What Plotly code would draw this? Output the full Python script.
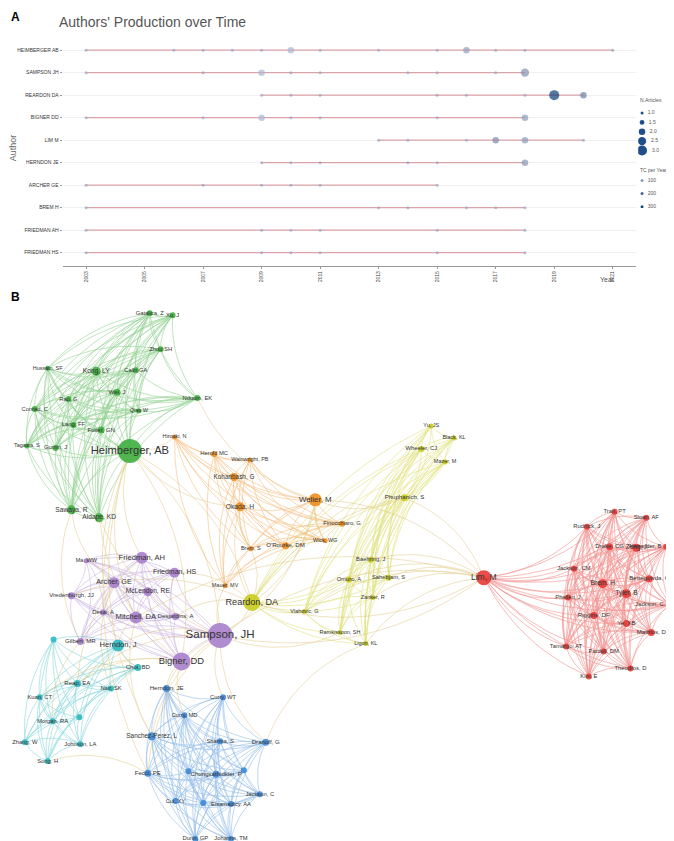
import plotly.graph_objects as go

# ---------- Panel A data ----------
authors = ["HEIMBERGER AB", "SAMPSON JH", "REARDON DA", "BIGNER DD", "LIM M",
           "HERNDON JE", "ARCHER GE", "BREM H", "FRIEDMAN AH", "FRIEDMAN HS"]
years = [
    [2003, 2006, 2007, 2008, 2009, 2010, 2011, 2013, 2015, 2016, 2017, 2018, 2021],
    [2003, 2007, 2009, 2010, 2011, 2014, 2015, 2017, 2018],
    [2009, 2010, 2011, 2015, 2016, 2018, 2019, 2020],
    [2003, 2007, 2009, 2010, 2011, 2015, 2018],
    [2013, 2014, 2016, 2017, 2018, 2020],
    [2009, 2010, 2011, 2014, 2015, 2018],
    [2003, 2007, 2009, 2010, 2011, 2015],
    [2003, 2013, 2014, 2016, 2017, 2018],
    [2003, 2009, 2010, 2011, 2015, 2018],
    [2003, 2009, 2010, 2011, 2015, 2018],
]
n_articles = [
    [1, 1, 1, 1, 1, 2, 1, 1, 1, 2, 1, 1, 1],
    [1, 1, 2, 1, 1, 1, 1, 1, 2.5],
    [1, 1, 1, 1, 1, 1, 3, 2],
    [1, 1, 2, 1, 1, 1, 2],
    [1, 1, 1, 2, 2, 1],
    [1, 1, 1, 1, 1, 2],
    [1, 1, 1, 1, 1, 1],
    [1, 1, 1, 1, 1, 1],
    [1, 1, 1, 1, 1, 1],
    [1, 1, 1, 1, 1, 1],
]
tc_year = [
    [80, 80, 80, 80, 80, 40, 80, 80, 80, 90, 80, 80, 90],
    [80, 80, 40, 80, 80, 80, 80, 80, 120],
    [80, 80, 80, 80, 80, 80, 330, 150],
    [80, 80, 40, 80, 80, 80, 100],
    [80, 80, 80, 130, 100, 80],
    [80, 80, 80, 80, 80, 110],
    [80, 80, 80, 80, 80, 80],
    [80, 80, 80, 80, 80, 80],
    [80, 80, 80, 80, 80, 80],
    [80, 80, 80, 80, 80, 80],
]
year_ticks = [2003, 2005, 2007, 2009, 2011, 2013, 2015, 2017, 2019, 2021]
legend_n = [1.0, 1.5, 2.0, 2.5, 3.0]
legend_tc = [100, 200, 300]

# ---------- Panel B data ----------
node_labels = [
    "Gatalica, Z", "Xu, J", "Zhou SH", "Hussain, SF", "Kong, LY", "Calin GA", "Wei, J", "Rao, G",
    "Conrad, C", "Qiao W", "Nduom, EK", "Lang, FF", "Fuller, GN", "Tagawa, S", "Gumin, J",
    "Heimberger, AB", "Sawaya, R", "Aldape, KD",
    "Hiroaki, N", "Herold MC", "Wainwright, PB", "Kohanbash, G", "Okada, H", "Weller, M",
    "Finocchiaro, G", "Wick, WG", "O'Rourke, DM", "Brem, S", "Mauer, MV",
    "Phuphanich, S", "Yu, JS", "Black, KL", "Wheeler, CJ", "Mazer, M", "Reardon, DA", "Baehring, J",
    "Omuro, A", "Sahebjam, S", "Zanker, R", "Vlahovic, G", "Ramkissoon, SH", "Ligon, KL",
    "Friedman, AH", "Friedman, HS", "Archer, GE", "McLendon, RE", "Vredenburgh, JJ", "Desai, A",
    "Mitchell, DA", "Desjardins, A", "Sampson, JH", "Bigner, DD", "Gilbert, MR", "Ma, WW",
    "Herndon, J", "", "Choi, BD", "Reap, EA", "Nair, SK", "Kuan, CT", "Morgan, RA", "",
    "Johnson, LA", "Zhang, W", "Song, H",
    "Herndon, JE", "Curry, WT", "Curry, MD", "Sanchez-Perez, L", "Sharma, S", "Dranoff, G",
    "Fecci, PE", "Chongsathidkiet, P", " ", "  ", "Cui, XY", "Elsamadicy, AA", "   ",
    "Jackson, C", "Dunn, GP", "Johanns, TM",
    "Lim, M", "Tran, PT", "Sloan, AF", "Rudnick, J", "Drake, CG", "Zeng, J", "Alexander, B",
    "Jackson, CM", "Brem, H", "Bettegowda, C", "Phallen, J", "Tyler, B", "Jackson, C.", "Riggins, DF",
    "Ye, XB", "Mathios, D", "Tamargo, AT", "Pardoll, DM", "Theodros, D", "Kim, E",
]
node_x = [
    137, 160, 148, 34, 83, 123, 104, 55, 21, 126, 185, 60, 88, 13, 42, 117, 58, 86,
    162, 202, 238, 222, 228, 304, 331, 314, 274, 239, 213,
    394, 421, 444, 411, 435, 240, 360, 338, 378, 362, 293, 329, 355,
    129, 162, 101, 135, 58, 90, 123, 163, 208, 169, 67, 73,
    105, 40, 125, 64, 98, 26, 39, 66, 67, 11, 34,
    154, 211, 172, 139, 208, 254, 135, 204, 176, 232, 163, 219, 191, 248, 183, 219,
    474, 606, 638, 578, 601, 628, 658, 565, 594, 641, 559, 618, 662, 585, 618, 643, 557, 595, 622, 580,
]
node_y = [
    309, 311, 345, 364, 367, 366, 388, 395, 405, 407, 394, 421, 426, 442, 444, 447, 506, 514,
    433, 450, 456, 473, 503, 496, 520, 537, 542, 545, 582,
    494, 422, 434, 445, 458, 599, 556, 576, 574, 594, 608, 629, 640,
    554, 569, 579, 588, 592, 609, 614, 613, 632, 658, 638, 557,
    642, 636, 664, 680, 685, 694, 718, 714, 741, 739, 758,
    685, 694, 712, 733, 738, 739, 770, 771, 768, 767, 798, 801, 800, 791, 836, 836,
    574, 508, 514, 523, 543, 544, 543, 565, 580, 575, 594, 590, 601, 612, 620, 629, 643, 648, 665, 673,
]
node_group = ([0] * 18 + [1] * 11 + [2] * 13 + [3] * 12 + [4] * 11 + [5] * 16 + [6] * 20)
node_size = [
    6, 6, 6, 5, 9, 6, 7, 6, 6, 5, 6, 6, 7, 5, 6, 24, 9, 9,
    5, 6, 5, 8, 9, 13, 6, 5, 7, 5, 5,
    7, 5, 5, 6, 5, 17, 6, 6, 6, 5, 5, 5, 5,
    12, 10, 11, 9, 7, 6, 12, 7, 25, 18, 7, 5,
    12, 6, 7, 7, 6, 6, 6, 6, 6, 6, 6,
    7, 6, 6, 8, 6, 7, 7, 7, 6, 6, 6, 6, 6, 6, 6, 6,
    15, 6, 6, 6, 7, 8, 6, 6, 9, 7, 6, 9, 6, 7, 7, 7, 6, 6, 6, 6,
]
group_colors = ["#3fae3f", "#f08c1e", "#c9cc1e", "#a77fcc", "#2cb8bf", "#3f8ad6", "#e83a36"]
cross_edges = [
    ("Sampson, JH", "Reardon, DA"), ("Sampson, JH", "Lim, M"), ("Sampson, JH", "Heimberger, AB"),
    ("Sampson, JH", "Weller, M"), ("Sampson, JH", "Herndon, J"), ("Sampson, JH", "Sanchez-Perez, L"),
    ("Sampson, JH", "Fecci, PE"), ("Sampson, JH", "Dranoff, G"), ("Sampson, JH", "Curry, WT"),
    ("Sampson, JH", "Reap, EA"), ("Sampson, JH", "Ramkissoon, SH"), ("Sampson, JH", "Herndon, JE"),
    ("Bigner, DD", "Herndon, JE"), ("Bigner, DD", "Reap, EA"), ("Bigner, DD", "Kuan, CT"),
    ("Bigner, DD", "Heimberger, AB"), ("Bigner, DD", "Curry, MD"),
    ("Reardon, DA", "Lim, M"), ("Reardon, DA", "Weller, M"), ("Reardon, DA", "Heimberger, AB"),
    ("Reardon, DA", "Vredenburgh, JJ"), ("Reardon, DA", "Desjardins, A"), ("Reardon, DA", "Friedman, HS"),
    ("Reardon, DA", "Brem, S"), ("Lim, M", "Weller, M"), ("Lim, M", "Baehring, J"),
    ("Lim, M", "Omuro, A"), ("Lim, M", "Ligon, KL"), ("Lim, M", "Phuphanich, S"),
    ("Lim, M", "Sahebjam, S"), ("Lim, M", "Zanker, R"), ("Lim, M", "Mitchell, DA"),
    ("Nduom, EK", "Weller, M"), ("Heimberger, AB", "Hiroaki, N"), ("Heimberger, AB", "Okada, H"),
    ("Heimberger, AB", "Friedman, AH"), ("Heimberger, AB", "Mitchell, DA"), ("Heimberger, AB", "Herndon, J"),
    ("Heimberger, AB", "Sanchez-Perez, L"), ("Heimberger, AB", "Fecci, PE"),
    ("Sawaya, R", "Archer, GE"), ("Sawaya, R", "Gilbert, MR"), ("Aldape, KD", "Bigner, DD"),
    ("Aldape, KD", "Sampson, JH"), ("Weller, M", "Phuphanich, S"), ("Okada, H", "Brem, S"),
    ("Okada, H", "Reardon, DA"), ("Ligon, KL", "Dranoff, G"), ("Mitchell, DA", "Herndon, J"),
    ("Gilbert, MR", "Morgan, RA"), ("Herndon, J", "Choi, BD"), ("Fecci, PE", "Song, H"),
    ("Friedman, AH", "Reap, EA"), ("Archer, GE", "Nair, SK"), ("Mitchell, DA", "Sanchez-Perez, L"),
    ("Mauer, MV", "Sampson, JH"), ("Weller, M", "Wick, WG"), ("Phuphanich, S", "Reardon, DA"),
    ("Lim, M", "Vlahovic, G"), ("Lim, M", "Sampson, JH"),
]

fig = go.Figure()

# ---------- Panel A ----------
tc_scale = [[0, "#a9b8d0"], [0.3, "#7e8fae"], [0.6, "#3a5f94"], [1, "#0b3d78"]]


def dot_size(n):
    return 3 + 3.5 * (n - 1)


for i, a in enumerate(authors):
    fig.add_trace(go.Scatter(x=[min(years[i]), max(years[i])], y=[a, a], mode="lines",
                             line=dict(color="#dba3a8", width=1.3), showlegend=False,
                             hoverinfo="skip", xaxis="x", yaxis="y"))
for i, a in enumerate(authors):
    fig.add_trace(go.Scatter(
        x=years[i], y=[a] * len(years[i]), mode="markers", showlegend=False,
        marker=dict(size=[dot_size(n) for n in n_articles[i]], color=tc_year[i],
                    colorscale=tc_scale, cmin=40, cmax=330, line=dict(width=0)),
        xaxis="x", yaxis="y"))

# manual legend (size / colour keys)
for k, v in enumerate(legend_n):
    fig.add_trace(go.Scatter(x=[0], y=[k], mode="markers+text", text=["  %.1f" % v],
                             textposition="middle right", textfont=dict(size=5, color="#555"),
                             marker=dict(size=dot_size(v), color="#1f4f8a"),
                             showlegend=False, hoverinfo="skip", xaxis="x3", yaxis="y3"))
for k, v in enumerate(legend_tc):
    fig.add_trace(go.Scatter(x=[0], y=[k * 1.4 + 7.2], mode="markers+text", text=["  %d" % v],
                             textposition="middle right", textfont=dict(size=5, color="#555"),
                             marker=dict(size=3, color=[v], colorscale=tc_scale, cmin=40, cmax=330),
                             showlegend=False, hoverinfo="skip", xaxis="x3", yaxis="y3"))

# ---------- Panel B ----------
idx = {lab: i for i, lab in enumerate(node_labels)}


def curve(i, j, bend=0.18, steps=14):
    x0, y0, x1, y1 = node_x[i], node_y[i], node_x[j], node_y[j]
    mx, my = (x0 + x1) / 2, (y0 + y1) / 2
    cx, cy = mx - (y1 - y0) * bend, my + (x1 - x0) * bend
    xs, ys = [], []
    for s in range(steps + 1):
        t = s / steps
        xs.append((1 - t) ** 2 * x0 + 2 * (1 - t) * t * cx + t ** 2 * x1)
        ys.append((1 - t) ** 2 * y0 + 2 * (1 - t) * t * cy + t ** 2 * y1)
    return xs + [None], ys + [None]


for g, col in enumerate(group_colors):
    members = [i for i in range(len(node_labels)) if node_group[i] == g]
    ex, ey = [], []
    for a in range(len(members)):
        for b in range(a + 1, len(members)):
            xs, ys = curve(members[a], members[b])
            ex += xs
            ey += ys
    fig.add_trace(go.Scatter(x=ex, y=ey, mode="lines", line=dict(color=col, width=0.6),
                             opacity=0.55, hoverinfo="skip", showlegend=False,
                             xaxis="x2", yaxis="y2"))

ex, ey = [], []
for a, b in cross_edges:
    xs, ys = curve(idx[a], idx[b], bend=0.22)
    ex += xs
    ey += ys
fig.add_trace(go.Scatter(x=ex, y=ey, mode="lines", line=dict(color="#d9b860", width=0.7),
                         opacity=0.55, hoverinfo="skip", showlegend=False, xaxis="x2", yaxis="y2"))

fig.add_trace(go.Scatter(
    x=node_x, y=node_y, mode="markers+text", text=[l.strip() for l in node_labels],
    textposition=["middle left" if x > 650 else "middle center" for x in node_x],
    textfont=dict(size=[4 + s * 0.3 for s in node_size], color="#333", family="Arial"),
    marker=dict(size=node_size, color=[group_colors[g] for g in node_group], opacity=0.9,
                line=dict(width=0)),
    showlegend=False, xaxis="x2", yaxis="y2"))

fig.update_layout(
    width=674, height=841, margin=dict(l=0, r=0, t=0, b=0),
    paper_bgcolor="white", plot_bgcolor="white", font=dict(family="Arial", color="#444"),
    xaxis=dict(domain=[0.081, 0.932], range=[2002.2, 2021.8], tickvals=year_ticks,
               ticktext=[str(y) for y in year_ticks], tickangle=-90, tickfont=dict(size=5),
               showgrid=False, zeroline=False, showline=True, linecolor="#999", ticks="outside",
               ticklen=2, tickcolor="#999"),
    yaxis=dict(domain=[0.693, 0.974], range=[9.6, -0.9], tickfont=dict(size=5, color="#333"),
               showgrid=True, gridcolor="#f0f0f0", zeroline=False, ticks="outside", ticklen=2,
               tickcolor="#999", title=dict(text="Author", font=dict(size=9, color="#666"),
                                             standoff=2)),
    xaxis2=dict(domain=[0, 1], range=[-6, 674], visible=False),
    yaxis2=dict(domain=[0, 0.65], range=[846, 298], visible=False),
    xaxis3=dict(domain=[0.935, 0.975], range=[-0.5, 3], visible=False),
    yaxis3=dict(domain=[0.762, 0.887], range=[10.16, -1.07], visible=False),
    annotations=[
        dict(text="<b>A</b>", x=0.002, y=1.0, xref="paper", yref="paper", showarrow=False,
             xanchor="left", yanchor="top", font=dict(size=12, color="black")),
        dict(text="<b>B</b>", x=0.002, y=0.667, xref="paper", yref="paper", showarrow=False,
             xanchor="left", yanchor="top", font=dict(size=12, color="black")),
        dict(text="Authors' Production over Time", x=0.073, y=0.995, xref="paper", yref="paper",
             showarrow=False, xanchor="left", yanchor="top", font=dict(size=14, color="#555")),
        dict(text="Year", x=0.89, y=0.671, xref="paper", yref="paper", showarrow=False,
             xanchor="center", yanchor="bottom", font=dict(size=7, color="#555")),
        dict(text="N.Articles", x=0.935, y=0.885, xref="paper", yref="paper", showarrow=False,
             xanchor="left", yanchor="bottom", font=dict(size=5, color="#555")),
        dict(text="TC per Year", x=0.935, y=0.802, xref="paper", yref="paper", showarrow=False,
             xanchor="left", yanchor="bottom", font=dict(size=5, color="#555")),
    ],
)

fig.write_html("out.html")
